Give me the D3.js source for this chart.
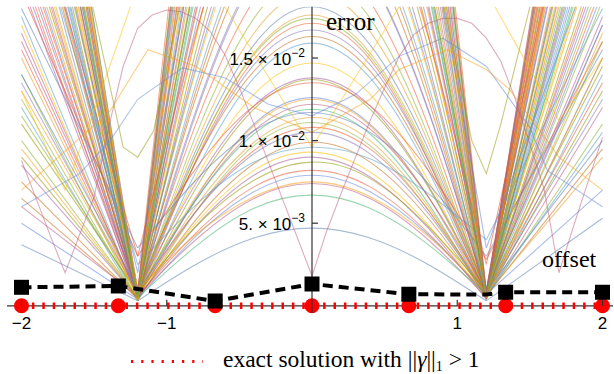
<!DOCTYPE html>
<html><head><meta charset="utf-8">
<script src="https://cdn.jsdelivr.net/npm/d3@7"></script>
<style>body{margin:0;background:#fff}svg{display:block}</style>
</head><body><svg id="c" width="614" height="374"></svg>
<script>
// ---- data (error values in units of 1e-4) ----
// each curve: value at offsets archX
const archX = [-2, -1.2, -0.8, -0.4, 0, 0.4, 0.8, 1.2, 2];
const curves = [
[310,6,94,158,181,158,95,8,260],[150,5,91,153,176,153,92,7,400],[420,8,91,152,174,151,90,6,160],
[205,4,88,149,171,149,88,5,215],[135,7,87,146,167,146,88,9,335],[355,10,87,142,163,142,85,6,440],
[120,3,81,138,159,138,82,4,140],[250,6,77,128,147,128,76,5,290],[440,9,74,121,138,121,73,8,175],
[90,5,71,119,137,119,72,6,130],[190,30,83,121,135,121,82,28,160],[385,4,65,110,126,110,66,5,190],
[280,7,66,109,125,109,66,7,370],[60,6,64,106,122,107,66,9,170],[330,8,64,104,119,104,62,4,245],
[180,35,76,106,117,105,74,30,155],[230,5,60,99,114,100,60,6,420],[140,3,57,97,111,97,58,5,110],
[155,6,57,94,108,95,58,8,310],[405,9,57,92,105,92,56,7,205],[75,4,52,86,99,87,53,6,95],
[260,25,61,87,96,89,68,40,180],[345,7,50,82,93,81,49,5,385],[85,5,48,79,90,78,47,4,275],
[110,8,48,76,87,77,48,9,145],[215,6,44,72,82,72,44,6,350],[50,4,42,69,79,69,43,7,70],
[395,10,43,66,75,66,42,8,230],[165,6,40,65,74,65,40,5,120],[300,5,36,59,67,59,37,7,430],
[37,3,25,41,47,41,25,3,53],[430,6,98,165,190,166,99,7,90],[100,5,103,174,200,174,103,5,300],
[240,8,110,185,212,184,109,6,195],[365,4,116,198,228,199,118,8,125],[275,7,126,213,245,213,125,5,360],
[175,5,134,228,262,228,134,6,255],[415,9,142,239,275,239,141,7,410],[195,6,148,252,290,252,147,4,320],
[320,3,154,265,305,265,156,6,220],[370,8,163,277,318,277,164,9,395],[225,5,169,288,332,288,169,5,150],
[130,7,176,300,345,300,177,8,285],[290,4,182,312,360,313,183,6,445],[445,6,189,323,372,323,190,7,240],
[140,10,198,335,385,335,197,8,340],[255,5,202,345,398,345,201,4,165],[115,7,209,356,410,356,208,6,200],
[340,4,215,369,425,369,215,5,375],[210,8,223,380,438,380,223,7,265],[400,6,228,391,450,391,230,9,425],
[285,5,235,403,465,404,236,6,170],[170,3,241,414,478,415,242,5,305],[360,7,249,425,490,425,249,7,210],
[235,9,257,439,505,438,256,6,390],[425,4,262,451,520,451,264,8,135],[305,6,271,464,535,464,270,5,250],
[95,5,277,475,548,476,278,7,355],[200,8,284,486,560,486,282,4,435],[380,6,291,499,575,499,291,6,280],
[265,5,298,512,590,512,300,9,100],[350,7,306,525,605,525,305,5,325],[125,4,312,538,620,538,313,6,185],
[220,9,322,551,635,551,322,8,405],[410,6,118,200,230,200,119,7,295],[65,5,130,222,255,222,130,5,365],
[295,8,144,244,280,243,143,6,105],[335,4,162,278,320,278,164,7,235],[245,6,178,304,350,304,180,9,415],
[390,5,200,343,395,343,201,6,270],[270,30,165,264,300,263,163,25,345],[315,20,220,366,420,368,228,35,225],
[435,6,258,442,510,442,258,5,150],[160,7,304,521,600,521,304,8,380],[375,5,193,330,380,330,193,6,315]
];
// irregular curves
const pinkX = [-2,-1.9,-1.8,-1.7,-1.6,-1.5,-1.4,-1.3,-1.2,-1.1,-1,-0.9,-0.8,-0.7,-0.6,-0.5,-0.4,-0.3,-0.2,-0.1,0,0.1,0.2,0.3,0.4,0.5,0.6,0.7,0.8,0.9,1,1.1,1.2,1.3,1.4,1.5,1.6,1.7,1.8,1.9,2];
const pinkV = [88,65,42,20,43,66,108,145,168,176,179,178,174,166,152,132,110,87,64,41,18,45,68,90,112,132,151,164,171,174,174,171,162,148,125,98,70,20,48,75,102];
const yellowX = [-2,-1.7,-1.46,-1.25,-1.0,-0.6,0,0.6,1.0,1.26,1.4,1.7,2];
const yellowV = [130,70,128,181,235,181,96,181,235,181,159,112,150];
const blueX = [-2,-1.6,-1.39,-1.2,-0.89,-0.6,-0.3,0,0.3,0.6,0.9,1.2,1.5,1.62,2];
const blueV = [60,80,100,125,144,138,122,115,128,151,162,145,108,82,60];
const orangeX = [-2,-1.39,-1.13,-0.8,-0.4,0,0.4,0.6,0.93,1.2,1.36,1.7,2];
const orangeV = [70,118,155,145,120,105,125,143,155,143,131,90,70];
const oliveX = [-2,-1.51,-1.3,-1.2,-1.09,-0.91,0,0.91,1.1,1.2,1.3,1.5,2];
const oliveV = [380,181,96,90,106,181,500,181,100,80,110,181,380];
// dashed line + markers (error in units of 1e-4)
const dashX = [-2,-4/3,-1.2,-2/3,0,2/3,1.2,4/3,2];
const dashV = [11.2,12.0,10.2,2.9,13.2,7.0,6.8,8.2,8.2];
const squareX = [-2,-4/3,-2/3,0,2/3,4/3,2];
const squareV = [11.2,12.0,2.9,13.2,7.0,8.2,8.2];
const exactX = [-2,-4/3,-2/3,0,2/3,4/3,2];
const exactV = [0,0,0,0,0,0,0];
const xTicks = [-2,-1,1,2];
const yTicks = [0.005,0.01,0.015];
const yTickBase = ["5. × 10","1. × 10","1.5 × 10"];
const yTickExp = ["−3","−2","−2"];

const UNIT = 1e-4;
const palette = ["#5E81B5","#E19C24","#8FB032","#EB6235","#8778B3","#C56E1A","#5D9EC7","#FFBF00","#A5609D","#929600","#E95536","#6685D9","#F89F13","#BC5B80","#47B66D"];

const svg = d3.select("#c");
const W = 614, H = 374;
const x = d3.scaleLinear().domain([-2,2]).range([21.5,602.5]);
const y = d3.scaleLinear().domain([0,0.0181]).range([305.8,6.8]);

svg.append("defs").append("clipPath").attr("id","clip")
  .append("rect").attr("x",0).attr("y",y(0.0181)).attr("width",W).attr("height",H);
const g = svg.append("g").attr("clip-path","url(#clip)");

const lin = d3.line().x(d=>x(d[0])).y(d=>y(d[1]*UNIT));
const nat = d3.line().x(d=>x(d[0])).y(d=>y(d[1]*UNIT)).curve(d3.curveNatural);

curves.forEach((r,i)=>{
  const pts = archX.map((xx,j)=>[xx,r[j]]);
  const d = lin([pts[0],pts[1]]) + nat(pts.slice(1,8)) + lin([pts[7],pts[8]]);
  g.append("path").attr("d",d).attr("fill","none")
    .attr("stroke",palette[i%palette.length]).attr("stroke-opacity",0.55).attr("stroke-width",1.1);
});
const specials = [[pinkX,pinkV,"#BC5B80"],[yellowX,yellowV,"#FFBF00"],[blueX,blueV,"#6685D9"],[orangeX,orangeV,"#F89F13"],[oliveX,oliveV,"#929600"]];
specials.forEach(([xs,vs,c])=>{
  g.append("path").attr("d",lin(xs.map((xx,j)=>[xx,vs[j]]))).attr("fill","none")
    .attr("stroke",c).attr("stroke-opacity",0.5).attr("stroke-width",1.1);
});

// x axis line
const x0 = x(0), y0 = y(0);
svg.append("line").attr("x1",7).attr("x2",613).attr("y1",y0).attr("y2",y0)
  .attr("stroke","#333").attr("stroke-width",1.2);

// exact solution dotted line
svg.append("line").attr("x1",x(-2)).attr("x2",x(2)).attr("y1",y(0)).attr("y2",y(0))
  .attr("stroke","#ff0000").attr("stroke-width",6.5).attr("stroke-dasharray","2.5,7.9");
svg.selectAll("circle.ex").data(exactX).join("circle").attr("class","ex")
  .attr("cx",d=>x(d)).attr("cy",(d,i)=>y(exactV[i])).attr("r",7.5).attr("fill","#ff0000");

// y axis line and ticks
svg.append("line").attr("x1",x0).attr("x2",x0).attr("y1",y(0.0181)).attr("y2",313)
  .attr("stroke","#333").attr("stroke-width",1.2);
const sans = "Liberation Sans, Arial, sans-serif";
xTicks.forEach(t=>{
  svg.append("line").attr("x1",x(t)).attr("x2",x(t)).attr("y1",y0).attr("y2",y0-6)
    .attr("stroke","#333").attr("stroke-width",1.2);
  svg.append("text").attr("x",x(t)).attr("y",328.5).attr("text-anchor","middle")
    .attr("font-family",sans).attr("font-size",17).attr("fill","#000")
    .text(d3.format("")(t).replace("-","−"));
});
yTicks.forEach((t,i)=>{
  svg.append("line").attr("x1",x0).attr("x2",x0+6).attr("y1",y(t)).attr("y2",y(t))
    .attr("stroke","#333").attr("stroke-width",1.2);
  const tx = svg.append("text").attr("x",x0-7).attr("y",y(t)+6.5).attr("text-anchor","end")
    .attr("font-family",sans).attr("font-size",17).attr("fill","#000");
  tx.append("tspan").text(yTickBase[i]);
  tx.append("tspan").attr("dy",-7.5).attr("font-size",12).text(yTickExp[i]);
});

// dashed black line + squares
svg.append("path").attr("d",lin(dashX.map((xx,j)=>[xx,dashV[j]]))).attr("fill","none")
  .attr("stroke","#000").attr("stroke-width",4).attr("stroke-dasharray","10,6");
svg.selectAll("rect.sq").data(squareX).join("rect").attr("class","sq")
  .attr("x",d=>x(d)-7.5).attr("y",(d,i)=>y(squareV[i]*UNIT)-7.5).attr("width",15).attr("height",15).attr("fill","#000");

// axis labels
const serif = "Liberation Serif, Times New Roman, serif";
svg.append("text").attr("x",326).attr("y",30).attr("font-family",serif).attr("font-size",25).text("error");
svg.append("text").attr("x",542).attr("y",267).attr("font-family",serif).attr("font-size",24).text("offset");

// legend
svg.append("line").attr("x1",131).attr("x2",203).attr("y1",361.5).attr("y2",361.5)
  .attr("stroke","#ff0000").attr("stroke-width",3).attr("stroke-dasharray","2.2,8");
const lt = svg.append("text").attr("x",223).attr("y",366.5).attr("font-family",serif).attr("font-size",23.5);
lt.append("tspan").text("exact solution with ||");
lt.append("tspan").attr("font-style","italic").text("γ");
lt.append("tspan").text("||");
lt.append("tspan").attr("dy",4).attr("font-size",14).text("1");
lt.append("tspan").attr("dy",-4).text(" > 1");
</script></body></html>
